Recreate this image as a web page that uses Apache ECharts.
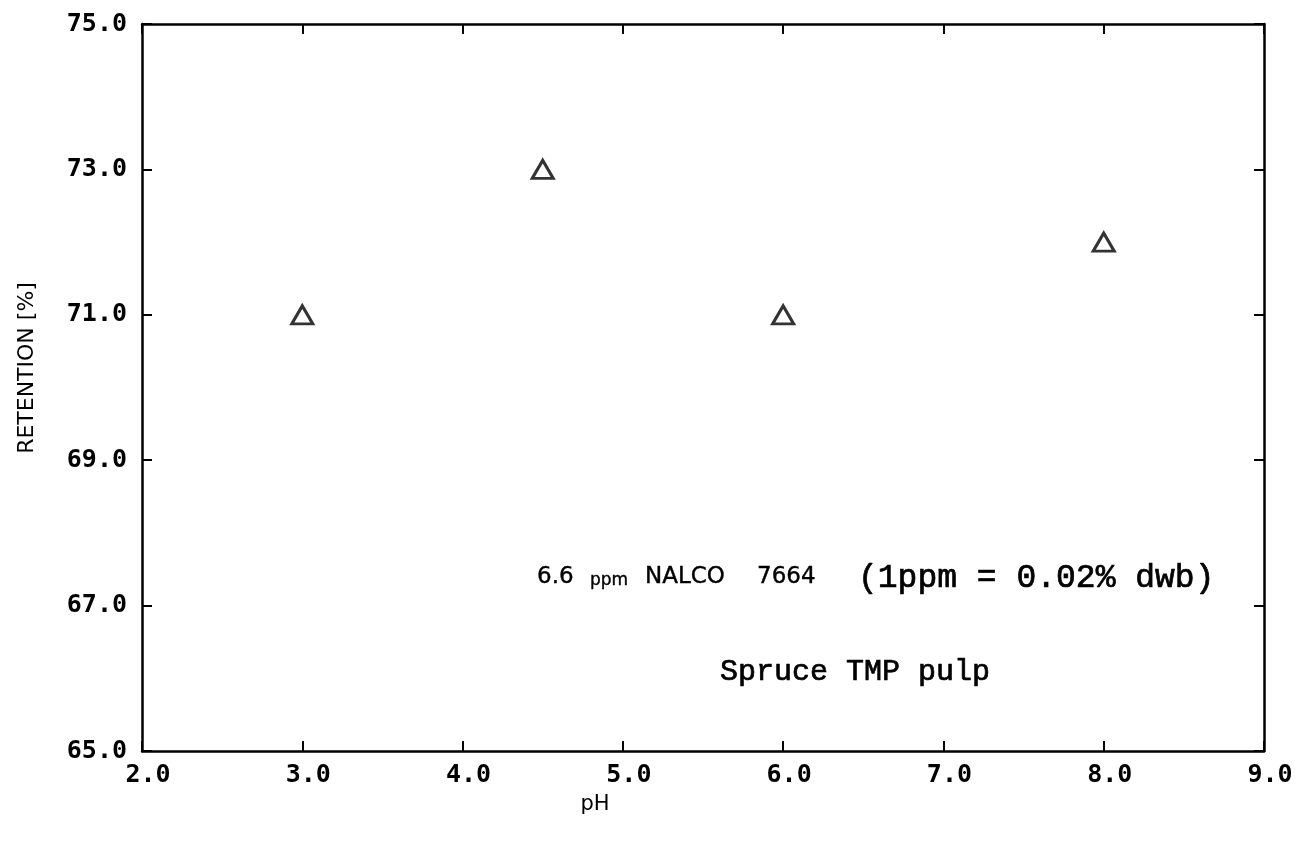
<!DOCTYPE html>
<html>
<head>
<meta charset="utf-8">
<script src="https://cdn.jsdelivr.net/npm/echarts@6/dist/echarts.min.js"></script>
<style>html,body{margin:0;padding:0;background:#fff}#c{width:1302px;height:844px}</style>
</head>
<body>
<div id="c"></div>
<script>
var phValues = [3.0, 4.5, 6.0, 8.0];
var retentionValues = [71.0, 73.0, 71.0, 72.0];
var xTickLabels = ['2.0','3.0','4.0','5.0','6.0','7.0','8.0','9.0'];
var yTickLabels = ['65.0','67.0','69.0','71.0','73.0','75.0'];
var xTitle = 'pH';
var yTitle = 'RETENTION [%]';
var note1Parts = ['6.6', 'ppm', 'NALCO', '7664'];
var note2 = '(1ppm = 0.02% dwb)';
var note3 = 'Spruce TMP pulp';

var chart = echarts.init(document.getElementById('c'));
var tickFont = {fontFamily: 'DejaVu Sans Mono', fontSize: 25, fontWeight: 'bold', color: '#000'};
var axLine = {show: true, lineStyle: {color: '#000', width: 2.5}};
var axTick = {show: true, inside: true, length: 10, lineStyle: {color: '#000', width: 2}};
var data = phValues.map(function (x, i) { return [x, retentionValues[i]]; });
var sans = '"DejaVu Sans"';
var mono = '"Liberation Mono"';

chart.setOption({
  backgroundColor: '#fff',
  animation: false,
  grid: {left: 142, right: 38, top: 24, bottom: 93},
  xAxis: [{
    type: 'value', min: 2, max: 9, interval: 1, position: 'bottom',
    axisLine: axLine, axisTick: axTick, splitLine: {show: false},
    axisLabel: Object.assign({margin: 12, padding: [0,0,0,12], formatter: function (v) { return xTickLabels[Math.round(v) - 2]; }}, tickFont)
  }, {
    type: 'value', min: 2, max: 9, interval: 1, position: 'top',
    axisLine: axLine, axisTick: axTick, splitLine: {show: false}, axisLabel: {show: false}
  }],
  yAxis: [{
    type: 'value', min: 65, max: 75, interval: 2, position: 'left',
    axisLine: axLine, axisTick: axTick, splitLine: {show: false},
    axisLabel: Object.assign({margin: 15, formatter: function (v) { return yTickLabels[Math.round((v - 65) / 2)]; }}, tickFont)
  }, {
    type: 'value', min: 65, max: 75, interval: 2, position: 'right',
    axisLine: axLine, axisTick: axTick, splitLine: {show: false}, axisLabel: {show: false}
  }],
  series: [{
    type: 'scatter', xAxisIndex: 0, yAxisIndex: 0,
    data: data, symbol: 'triangle', symbolSize: [21, 18],
    itemStyle: {color: '#fff', borderColor: '#000', borderWidth: 3}
  }],
  graphic: [
    {type: 'text', x: 27, y: 368, rotation: Math.PI / 2,
     style: {text: yTitle, font: '22px ' + sans, fill: '#000', align: 'center', verticalAlign: 'middle'}},
    {type: 'text', x: 595, y: 805,
     style: {text: xTitle, font: '21px ' + sans, fill: '#000', align: 'center', verticalAlign: 'middle'}},
    {type: 'text', x: 537, y: 589,
     style: {text: note1Parts[0], font: '23px ' + sans, fill: '#000', stroke: '#000', lineWidth: 0.4, verticalAlign: 'bottom'}},
    {type: 'text', x: 590, y: 589,
     style: {text: note1Parts[1], font: '17px ' + sans, fill: '#000', stroke: '#000', lineWidth: 0.4, verticalAlign: 'bottom'}},
    {type: 'text', x: 645, y: 589,
     style: {text: note1Parts[2], font: '23px ' + sans, fill: '#000', stroke: '#000', lineWidth: 0.4, verticalAlign: 'bottom'}},
    {type: 'text', x: 757, y: 589,
     style: {text: note1Parts[3], font: '23px ' + sans, fill: '#000', stroke: '#000', lineWidth: 0.4, verticalAlign: 'bottom'}},
    {type: 'text', x: 858, y: 578,
     style: {text: note2, font: '33px ' + mono, fill: '#000', stroke: '#000', lineWidth: 0.7, align: 'left', verticalAlign: 'middle'}},
    {type: 'text', x: 720, y: 672,
     style: {text: note3, font: '30px ' + mono, fill: '#000', stroke: '#000', lineWidth: 0.7, align: 'left', verticalAlign: 'middle'}}
  ]
});
</script>
</body>
</html>
